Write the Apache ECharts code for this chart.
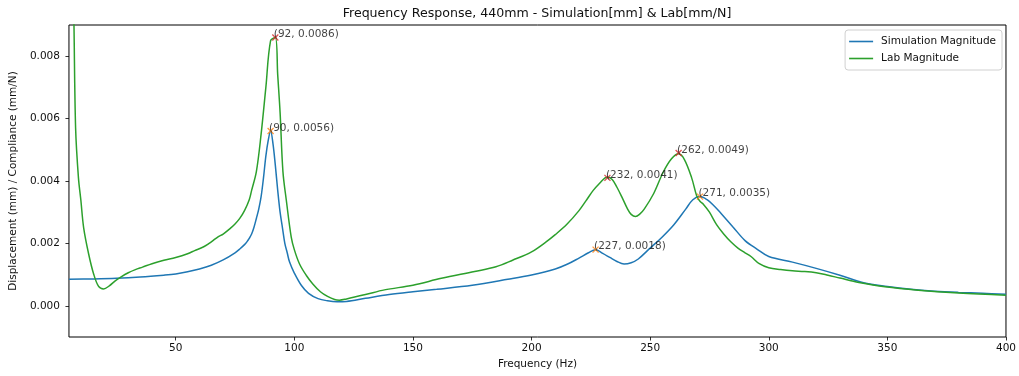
<!DOCTYPE html>
<html><head><meta charset="utf-8">
<script src="https://cdn.jsdelivr.net/npm/echarts@6/dist/echarts.min.js"></script>
<style>html,body{margin:0;padding:0;background:#fff}#c{width:1019px;height:376px}</style>
</head><body><div id="c"></div>
<script>
const simFreq = [5, 15, 25, 35, 45, 50, 55, 60, 65, 70, 75, 77, 79, 80, 81, 82, 83, 84, 85, 86, 87, 88, 89, 90, 91, 92, 93, 94, 95, 96, 97, 98, 100, 103, 106, 110, 114, 118, 122, 130, 140, 150, 160, 175, 190, 200, 210, 215, 220, 224, 227, 230, 233, 236, 239, 242, 245, 250, 255, 260, 265, 268, 271, 274, 277, 280, 285, 290, 295, 300, 310, 320, 330, 340, 350, 360, 370, 380, 390, 400];
const simMag = [0.00085, 0.00086, 0.00088, 0.00092, 0.00098, 0.00102, 0.00109, 0.00118, 0.0013, 0.00147, 0.0017, 0.00182, 0.00196, 0.00205, 0.00216, 0.0023, 0.00252, 0.0028, 0.0031, 0.0035, 0.0041, 0.0048, 0.0053, 0.0056, 0.0052, 0.0045, 0.0037, 0.003, 0.0025, 0.002, 0.0017, 0.0014, 0.00105, 0.00065, 0.0004, 0.00023, 0.00016, 0.00013, 0.00014, 0.00024, 0.00036, 0.00045, 0.00053, 0.00066, 0.00085, 0.00099, 0.00118, 0.00133, 0.00153, 0.0017, 0.0018, 0.00168, 0.00155, 0.00142, 0.00134, 0.00138, 0.0015, 0.00185, 0.0022, 0.0026, 0.0031, 0.0034, 0.0035, 0.0034, 0.0032, 0.00295, 0.00252, 0.00209, 0.00182, 0.00158, 0.0014, 0.0012, 0.00098, 0.00074, 0.00062, 0.00053, 0.00047, 0.00043, 0.0004, 0.00037];
const labFreq = [6, 7, 7.8, 9, 10, 11.2, 13.3, 15.4, 17.5, 19.6, 22, 24.5, 27, 30, 33, 36, 40, 45, 50, 55, 58, 62, 65, 68, 70, 73, 75, 77, 79, 81, 82, 84, 86, 88, 90, 92, 93, 94, 95.2, 96.6, 98.7, 100, 102.2, 105, 107.8, 111, 114, 117, 119, 122, 130, 138, 150, 162, 176, 185, 192, 200, 206, 210, 215, 220, 223, 226, 229, 231, 232, 234, 236, 238, 240.5, 242, 243.8, 245.5, 247.5, 251.5, 255.5, 259, 262, 264.5, 267.5, 269.6, 271, 272.5, 275, 278, 281, 284, 287, 290, 292.5, 296, 300, 305, 310, 315, 320, 325, 330, 338, 349, 363, 380, 400];
const labMag = [0.0125, 0.0095, 0.0057, 0.0041, 0.0034, 0.0025, 0.00166, 0.00102, 0.00062, 0.00054, 0.00064, 0.0008, 0.00093, 0.00106, 0.00116, 0.00124, 0.00135, 0.00146, 0.00155, 0.00167, 0.00177, 0.0019, 0.00205, 0.00222, 0.0023, 0.00248, 0.00262, 0.0028, 0.00305, 0.0034, 0.0037, 0.0043, 0.0055, 0.007, 0.0085, 0.0086, 0.0074, 0.0062, 0.0043, 0.0034, 0.0022, 0.0018, 0.00134, 0.00098, 0.0007, 0.00045, 0.0003, 0.0002, 0.00018, 0.00022, 0.00036, 0.00051, 0.00066, 0.00088, 0.0011, 0.00125, 0.00146, 0.00173, 0.00204, 0.00228, 0.00262, 0.00305, 0.00337, 0.0037, 0.00395, 0.0041, 0.00412, 0.00405, 0.0038, 0.0035, 0.0031, 0.00293, 0.00286, 0.00293, 0.0031, 0.0036, 0.00428, 0.00471, 0.00487, 0.00468, 0.0041, 0.00353, 0.00335, 0.00325, 0.003, 0.0026, 0.0023, 0.00205, 0.00185, 0.0017, 0.00158, 0.00135, 0.00122, 0.00116, 0.00112, 0.0011, 0.00106, 0.00098, 0.00089, 0.00075, 0.00061, 0.0005, 0.00041, 0.00034];
const simPeakFreq = [90, 227, 271];
const simPeakMag = [0.0056, 0.0018, 0.0035];
const labPeakFreq = [92, 232, 262];
const labPeakMag = [0.0086, 0.0041, 0.0049];
const xTicks = [50, 100, 150, 200, 250, 300, 350, 400];
const yTicks = [0, 0.002, 0.004, 0.006, 0.008];
const titleText = 'Frequency Response, 440mm - Simulation[mm] & Lab[mm/N]';
const xName = 'Frequency (Hz)';
const yName = 'Displacement (mm) / Compliance (mm/N)';
const seriesNames = ['Simulation Magnitude', 'Lab Magnitude'];

const FONT = 'DejaVu Sans';
const zip = (a, b) => a.map((v, i) => [v, b[i]]);
const crossPath = 'path://M0,0L10,10M10,0L0,10';

function peakSeries(fs, ms, color) {
  return {
    type: 'scatter',
    data: zip(fs, ms),
    symbol: crossPath,
    symbolSize: 6,
    z: 5,
    silent: true,
    itemStyle: { color: 'none', borderColor: color, borderWidth: 1.3 },
    label: {
      show: true, position: 'right', distance: 0.001, offset: [-7, -3],
      color: '#111', fontFamily: FONT, fontSize: 10.5,
      formatter: p => '(' + p.value[0] + ', ' + p.value[1] + ')'
    }
  };
}

const chart = echarts.init(document.getElementById('c'), null, { renderer: 'canvas' });
chart.setOption({
  animation: false,
  backgroundColor: '#fff',
  textStyle: { fontFamily: FONT },
  grid: { left: 67, right: 12, top: 25, bottom: 39, show: true, borderColor: '#000', borderWidth: 1, backgroundColor: 'transparent' },
  graphic: [{
    type: 'text', x: 537, y: 14, z: 10,
    style: { text: titleText, font: '12.6px "DejaVu Sans"', fill: '#111', textAlign: 'center', textVerticalAlign: 'middle' }
  }],
  legend: {
    orient: 'vertical', right: 17, top: 30,
    padding: [5, 6, 5, 4], itemGap: 4, itemWidth: 24, itemHeight: 1.6,
    icon: 'rect',
    backgroundColor: '#fff', borderColor: '#d0d0d0', borderWidth: 1, borderRadius: 3,
    textStyle: { fontFamily: FONT, fontSize: 10.5, color: '#111', padding: [0, 0, 0, 3], lineHeight: 13 },
    data: seriesNames
  },
  xAxis: {
    type: 'value', min: 5, max: 400,
    name: xName, nameLocation: 'middle', nameGap: 22,
    nameTextStyle: { fontFamily: FONT, fontSize: 10.5, color: '#111' },
    axisLine: { show: false, onZero: false },
    splitLine: { show: false },
    axisTick: { show: true, length: 3.5, lineStyle: { color: '#000', width: 0.8 }, customValues: xTicks },
    axisLabel: { margin: 6, fontFamily: FONT, fontSize: 10.5, color: '#111', customValues: xTicks, formatter: v => String(v) }
  },
  yAxis: {
    type: 'value', min: -0.001, max: 0.009,
    name: yName, nameLocation: 'middle', nameGap: 38, nameRotate: 90,
    nameTextStyle: { fontFamily: FONT, fontSize: 10.5, color: '#111' },
    axisLine: { show: false, onZero: false },
    splitLine: { show: false },
    axisTick: { show: true, length: 3.5, lineStyle: { color: '#000', width: 0.8 }, customValues: yTicks },
    axisLabel: { margin: 9, fontFamily: FONT, fontSize: 10.5, color: '#111', customValues: yTicks, formatter: v => v.toFixed(3) }
  },
  series: [
    {
      name: seriesNames[0], type: 'line', data: zip(simFreq, simMag),
      symbol: 'none', smooth: 0.35, clip: true,
      lineStyle: { color: '#1f77b4', width: 1.5 }, itemStyle: { color: '#1f77b4' }, z: 2
    },
    {
      name: seriesNames[1], type: 'line', data: zip(labFreq, labMag),
      symbol: 'none', smooth: 0.35, clip: true,
      lineStyle: { color: '#2ca02c', width: 1.5 }, itemStyle: { color: '#2ca02c' }, z: 3
    },
    peakSeries(simPeakFreq, simPeakMag, '#ff7f0e'),
    peakSeries(labPeakFreq, labPeakMag, '#d62728')
  ]
});
</script>
</body></html>
